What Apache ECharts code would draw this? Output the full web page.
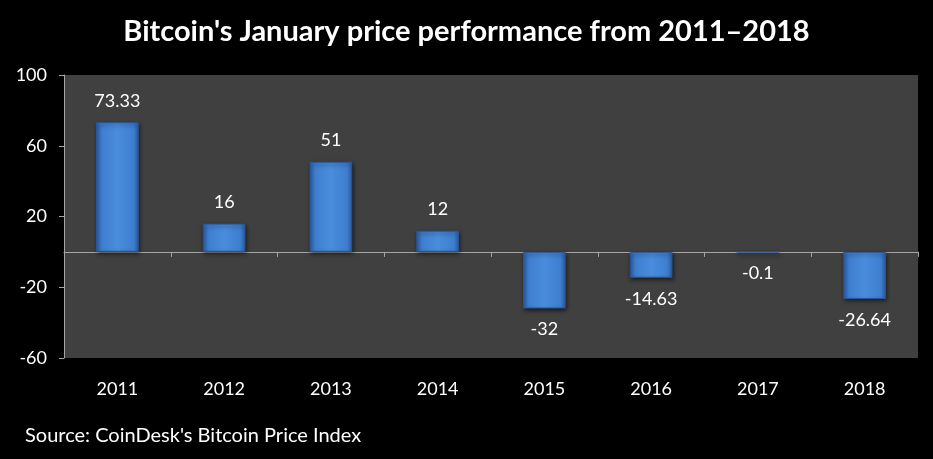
<!DOCTYPE html>
<html>
<head>
<meta charset="utf-8">
<script src="https://cdn.jsdelivr.net/npm/echarts@6/dist/echarts.min.js"></script>
<style>
html,body{margin:0;padding:0;background:#000;}
#c{width:933px;height:459px;}
</style>
</head>
<body>
<div id="c"></div>
<script>
var categories = ['2011','2012','2013','2014','2015','2016','2017','2018'];
var values = [73.33, 16, 51, 12, -32, -14.63, -0.1, -26.64];
var yTicks = [-60, -20, 20, 60, 100];

var chart = echarts.init(document.getElementById('c'));
var font = 'Lato, "Open Sans", sans-serif';
var barColor = new echarts.graphic.LinearGradient(0, 0, 1, 0, [
  {offset: 0, color: '#2d5fa8'},
  {offset: 0.12, color: '#3e7ed0'},
  {offset: 0.5, color: '#4a8ddc'},
  {offset: 0.88, color: '#3e7ed0'},
  {offset: 1, color: '#2d5fa8'}
]);
chart.setOption({
  backgroundColor: '#000',
  animation: false,
  title: {
    text: "Bitcoin's January price performance from 2011\u20132018",
    left: 'center',
    top: 12,
    textStyle: {color: '#fff', fontSize: 29, fontWeight: 'bold', fontFamily: font}
  },
  graphic: [{
    type: 'text',
    left: 25,
    top: 426,
    style: {text: "Source: CoinDesk's Bitcoin Price Index", fill: '#fff', fontSize: 20, fontFamily: font}
  }],
  grid: {
    left: 64, right: 15, top: 75, bottom: 101,
    show: true, backgroundColor: '#404040', borderWidth: 0
  },
  xAxis: [{
    type: 'category',
    data: categories,
    axisLine: {onZero: true, lineStyle: {color: '#a6a6a6', width: 1}},
    axisTick: {show: true, length: 5, lineStyle: {color: '#a6a6a6'}},
    axisLabel: {show: false}
  }, {
    type: 'category',
    data: categories,
    position: 'bottom',
    axisLine: {show: false},
    axisTick: {show: false},
    axisLabel: {color: '#fff', fontSize: 18, fontFamily: font, margin: 22}
  }],
  yAxis: {
    type: 'value',
    min: -60, max: 100, interval: 40,
    axisLine: {show: true, lineStyle: {color: '#a6a6a6'}},
    axisTick: {show: true, inside: false, length: 5, lineStyle: {color: '#a6a6a6'}},
    splitLine: {show: false},
    axisLabel: {color: '#fff', fontSize: 18, fontFamily: font, margin: 17,
      formatter: function (v) { return yTicks.indexOf(v) >= 0 ? String(v) : ''; }}
  },
  series: [{
    type: 'bar',
    data: values.map(function (v) {
      return {value: v, label: {position: v >= 0 ? 'top' : 'bottom'}};
    }),
    barWidth: '40%',
    itemStyle: {
      color: barColor,
      borderColor: '#2a5599',
      borderWidth: 1,
      shadowColor: 'rgba(0,0,0,0.6)',
      shadowBlur: 4,
      shadowOffsetX: 1,
      shadowOffsetY: 2
    },
    label: {
      show: true, color: '#fff', fontSize: 18, fontFamily: font, distance: 12,
      formatter: function (p) { return String(p.value); }
    }
  }]
});
</script>
</body>
</html>
